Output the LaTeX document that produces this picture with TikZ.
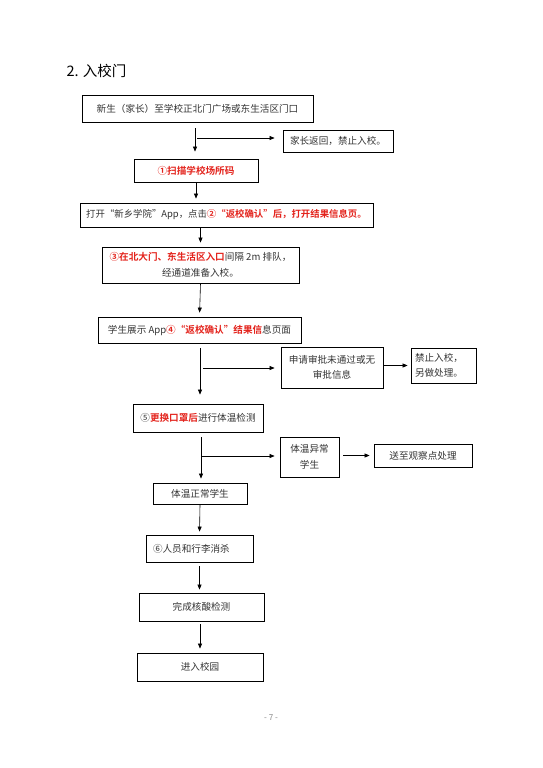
\documentclass[tikz,border=0pt]{standalone}
\usepackage{fontspec}
\setmainfont{Noto Sans CJK SC}[BoldFont={Noto Sans CJK SC Bold}]
\usepackage{tikz}
\usetikzlibrary{positioning,arrows.meta,calc}
\definecolor{ink}{HTML}{333333}
\definecolor{alert}{HTML}{e3231c}
\newcommand{\hl}[1]{{\color{alert}\bfseries #1}}

\begin{document}
\begin{tikzpicture}[x=1pt,y=-1pt,font=\fontsize{9.6}{15.5}\selectfont,
  box/.style={draw=black,line width=0.8pt,text=ink,inner sep=0pt,align=center},
  link/.style={-{Triangle[length=5pt,width=4pt]},line width=0.6pt,shorten >=4pt}]
  \useasboundingbox (0,0) rectangle (542,768);
  \node[anchor=base west,font=\fontsize{14.5}{16}\selectfont] (title) at (63,77) {2. 入校门};

  % main column
  \node[box,minimum width=231,minimum height=27] (entry) at (197.5,108.5) {新生（家长）至学校正北门广场或东生活区门口};
  \node[box,minimum width=124,minimum height=23] (scan) at (196,170.5) {\hl{①扫描学校场所码}};
  \node[box,minimum width=293,minimum height=24,font=\fontsize{9.4}{15.5}\selectfont] (openapp) at (226.5,215) {打开“新乡学院”App，点击\hl{②“返校确认”后，打开结果信息页。}};
  \node[box,minimum width=197,minimum height=36] (queue) at (200.5,265) {\hl{③在北大门、东生活区入口}间隔 2m 排队，\\经通道准备入校。};
  \node[box,minimum width=203,minimum height=26] (show) at (199.5,330) {学生展示 App\hl{④“返校确认”结果信}息页面};
  \node[box,minimum width=130,minimum height=28] (temp) at (198,418) {⑤\hl{更换口罩后}进行体温检测};
  \node[box,minimum width=94,minimum height=21] (normal) at (200,493.5) {体温正常学生};
  \node[box,minimum width=107,minimum height=27,text width=93,align=left] (disinfect) at (199.5,548.5) {⑥人员和行李消杀};
  \node[box,minimum width=125,minimum height=28] (nat) at (201.5,607) {完成核酸检测};
  \node[box,minimum width=126,minimum height=28] (enter) at (200,667) {进入校园};

  % side boxes
  \node[box,minimum width=110,minimum height=22] (back) at (338,141) {家长返回，禁止入校。};
  \node[box,minimum width=102,minimum height=41] (denied) at (332,367.5) {申请审批未通过或无\\审批信息};
  \node[box,minimum width=65,minimum height=35,text width=57,align=left] (banned) at (443.5,365.5) {禁止入校，\\另做处理。};
  \node[box,minimum width=59,minimum height=40] (fever) at (309.5,457) {体温异常\\学生};
  \node[box,minimum width=98,minimum height=23] (observe) at (423,455.5) {送至观察点处理};

  \node[font=\fontsize{8}{9}\selectfont,text=gray] (pageno) at (271,718) {- 7 -};

  % trunk
  \coordinate (j1) at (195,138);
  \coordinate (j2) at (200,368);
  \coordinate (j3) at (201,456);
  \draw[link,shorten <=6pt,shorten >=7pt] (entry.south -| j1) -- (scan.north -| j1);
  \draw[link] (scan.south) -- (scan.south |- openapp.north);
  \draw[link] (queue.north |- openapp.south) -- (queue.north);
  \draw[link] (queue.south) -- (show.north);
  \draw[link,shorten <=5pt,shorten >=9pt] (show.south -| j2) -- (temp.north -| j2);
  \draw[link,shorten <=5pt] (temp.south -| j3) -- (normal.north -| j3);
  \draw[link,shorten >=3pt] (normal.south) -- (disinfect.north);
  \draw[link,shorten <=4pt,shorten >=3pt] (disinfect.south) -- (disinfect.south |- nat.north);
  \draw[link,shorten <=3pt] (nat.south -| enter.north) -- (enter.north);

  % branches
  \draw[link,shorten <=2pt,shorten >=8pt] (j1) -- (j1 -| back.west);
  \draw[link,shorten <=3pt,shorten >=6pt] (j2) -- (j2 -| denied.west);
  \draw[link,shorten >=3pt] (denied.east |- banned.west) -- (banned.west);
  \draw[link,shorten <=1pt,shorten >=5pt] (j3) -- (j3 -| fever.west);
  \draw[link,shorten <=4pt] (fever.east |- observe.west) -- (observe.west);
\end{tikzpicture}
\end{document}
